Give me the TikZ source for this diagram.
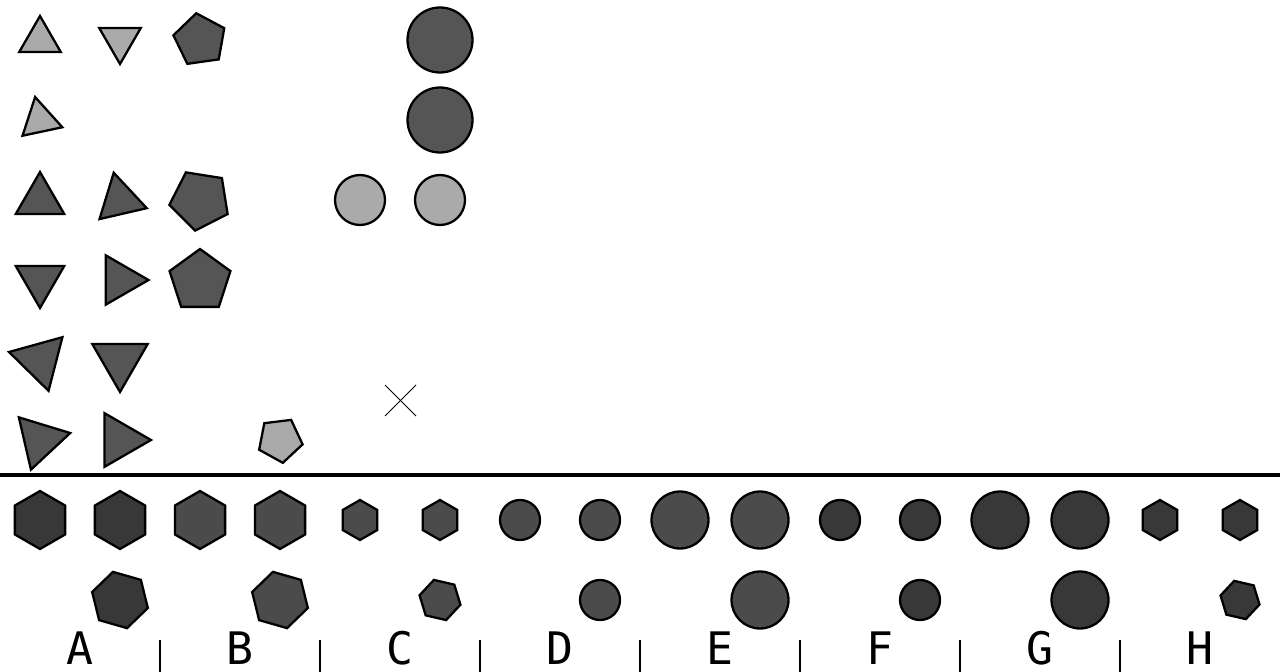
\documentclass[tikz,border=0pt]{standalone}
\usepackage{fontspec}
\setmonofont{DejaVu Sans Mono}
\usetikzlibrary{shapes.geometric}

\definecolor{lightpiece}{HTML}{AAAAAA}
\definecolor{darkpiece}{HTML}{555555}
\definecolor{midpiece}{HTML}{4B4B4B}
\definecolor{deeppiece}{HTML}{383838}

\begin{document}
\begin{tikzpicture}[
    x=0.02cm,
    y=-0.02cm,
    piece/.style={
      draw=black,
      line width=1.3pt,
      inner sep=0pt,
      outer sep=0pt
    },
    tri/.style={
      piece,
      regular polygon,
      regular polygon sides=3
    },
    penta/.style={
      piece,
      regular polygon,
      regular polygon sides=5
    },
    hexa/.style={
      piece,
      regular polygon,
      regular polygon sides=6
    },
    disc/.style={
      piece,
      circle
    },
    light/.style={fill=lightpiece},
    dark/.style={fill=darkpiece},
    mid/.style={fill=midpiece},
    deep/.style={fill=deeppiece},
    bin/.style={
      anchor=base,
      inner sep=0pt,
      font=\ttfamily\fontsize{25.5}{30}\selectfont
    },
    rule/.style={line width=2.4pt, draw=black},
    tick/.style={line width=1.1pt, draw=black}
  ]

    \useasboundingbox (0,0) rectangle (1280,672);

    % Upper area: scattered pieces
    \node[tri, light, minimum size=0.96cm] (t11) at (40,40) {};
    \node[tri, light, minimum size=0.96cm, rotate=180] (t12) at (120,40) {};
    \node[penta, dark, minimum size=1.08cm, rotate=8] (p13) at (200,40) {};
    \node[disc, dark, minimum size=1.3cm] (c16) at (440,40) {};

    \node[tri, light, minimum size=0.94cm, rotate=12] (t21) at (40,120) {};
    \node[disc, dark, minimum size=1.3cm] (c26) at (440,120) {};

    \node[tri, dark, minimum size=1.12cm] (t31) at (40,200) {};
    \node[tri, dark, minimum size=1.12cm, rotate=13] (t32) at (120,200) {};
    \node[penta, dark, minimum size=1.24cm, rotate=27] (p33) at (200,200) {};
    \node[disc, light, minimum size=1.0cm] (c35) at (360,200) {};
    \node[disc, light, minimum size=1.0cm] (c36) at (440,200) {};

    \node[tri, dark, minimum size=1.12cm, rotate=180] (t41) at (40,280) {};
    \node[tri, dark, minimum size=1.14cm, rotate=-90] (t42) at (120,280) {};
    \node[penta, dark, minimum size=1.28cm] (p43) at (200,281) {};

    \node[tri, dark, minimum size=1.28cm, rotate=75.5] (t51) at (40,360) {};
    \node[tri, dark, minimum size=1.28cm, rotate=180] (t52) at (120,360) {};

    \node[tri, dark, minimum size=1.24cm, rotate=43] (t61) at (40,440) {};
    \node[tri, dark, minimum size=1.24cm, rotate=-90] (t62) at (120,440) {};
    \node[penta, light, minimum size=0.92cm, rotate=-29] (p64) at (280,440) {};

    % Cross mark
    \coordinate (xa) at (385,385);
    \coordinate (xb) at (416,416);
    \coordinate (xc) at (416,385);
    \coordinate (xd) at (385,416);
    \draw[line width=0.5pt] (xa) -- (xb);
    \draw[line width=0.5pt] (xc) -- (xd);

    % Dividing rule
    \coordinate (ruleW) at (0,475);
    \coordinate (ruleE) at (1280,475);
    \draw[rule] (ruleW) -- (ruleE);

    % Lower area: first row
    \node[hexa, deep, minimum size=1.16cm, rotate=30] (a1) at (40,520) {};
    \node[hexa, deep, minimum size=1.16cm, rotate=30] (a2) at (120,520) {};
    \node[hexa, mid, minimum size=1.16cm, rotate=30] (b1) at (200,520) {};
    \node[hexa, mid, minimum size=1.16cm, rotate=30] (b2) at (280,520) {};
    \node[hexa, mid, minimum size=0.8cm, rotate=30] (c1) at (360,520) {};
    \node[hexa, mid, minimum size=0.8cm, rotate=30] (c2) at (440,520) {};
    \node[disc, mid, minimum size=0.8cm] (d1) at (520,520) {};
    \node[disc, mid, minimum size=0.8cm] (d2) at (600,520) {};
    \node[disc, mid, minimum size=1.14cm] (e1) at (680,520) {};
    \node[disc, mid, minimum size=1.14cm] (e2) at (760,520) {};
    \node[disc, deep, minimum size=0.8cm] (f1) at (840,520) {};
    \node[disc, deep, minimum size=0.8cm] (f2) at (920,520) {};
    \node[disc, deep, minimum size=1.14cm] (g1) at (1000,520) {};
    \node[disc, deep, minimum size=1.14cm] (g2) at (1080,520) {};
    \node[hexa, deep, minimum size=0.8cm, rotate=30] (h1) at (1160,520) {};
    \node[hexa, deep, minimum size=0.8cm, rotate=30] (h2) at (1240,520) {};

    % Lower area: second row
    \node[hexa, deep, minimum size=1.16cm, rotate=44] (a3) at (120,600) {};
    \node[hexa, mid, minimum size=1.16cm, rotate=44] (b3) at (280,600) {};
    \node[hexa, mid, minimum size=0.84cm, rotate=47] (c3) at (440,600) {};
    \node[disc, mid, minimum size=0.8cm] (d3) at (600,600) {};
    \node[disc, mid, minimum size=1.14cm] (e3) at (760,600) {};
    \node[disc, deep, minimum size=0.8cm] (f3) at (920,600) {};
    \node[disc, deep, minimum size=1.14cm] (g3) at (1080,600) {};
    \node[hexa, deep, minimum size=0.8cm, rotate=47] (h3) at (1240,600) {};

    % Bin labels
    \node[bin] (labA) at (80,664) {A};
    \node[bin] (labB) at (240,664) {B};
    \node[bin] (labC) at (400,664) {C};
    \node[bin] (labD) at (560,664) {D};
    \node[bin] (labE) at (720,664) {E};
    \node[bin] (labF) at (880,664) {F};
    \node[bin] (labG) at (1040,664) {G};
    \node[bin] (labH) at (1200,664) {H};

    % Bin separators
    \coordinate (s1t) at (160,640);  \coordinate (s1b) at (160,672);
    \coordinate (s2t) at (320,640);  \coordinate (s2b) at (320,672);
    \coordinate (s3t) at (480,640);  \coordinate (s3b) at (480,672);
    \coordinate (s4t) at (640,640);  \coordinate (s4b) at (640,672);
    \coordinate (s5t) at (800,640);  \coordinate (s5b) at (800,672);
    \coordinate (s6t) at (960,640);  \coordinate (s6b) at (960,672);
    \coordinate (s7t) at (1120,640); \coordinate (s7b) at (1120,672);
    \draw[tick] (s1t) -- (s1b);
    \draw[tick] (s2t) -- (s2b);
    \draw[tick] (s3t) -- (s3b);
    \draw[tick] (s4t) -- (s4b);
    \draw[tick] (s5t) -- (s5b);
    \draw[tick] (s6t) -- (s6b);
    \draw[tick] (s7t) -- (s7b);

  \end{tikzpicture}
\end{document}
